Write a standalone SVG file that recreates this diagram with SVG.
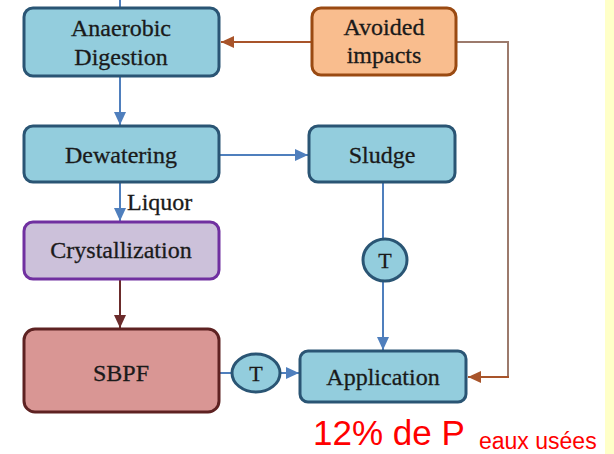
<svg xmlns="http://www.w3.org/2000/svg" width="614" height="454" viewBox="0 0 614 454">
<defs>
<style>
.box{stroke-width:3}
.blue{fill:#93cddd;stroke:#2a5574}
.orange{fill:#f9bd8e;stroke:#9a4a12}
.purple{fill:#ccc1da;stroke:#7030a0}
.red{fill:#d99694;stroke:#5e2222}
.lbl{font-family:'Liberation Serif','Times New Roman',serif;font-size:24px;fill:#1a1a1a;stroke:#1a1a1a;stroke-width:0.3;text-anchor:middle}
.c{fill:none;stroke-width:2}
.cb{stroke:#4f7fbd}
.co{stroke:#a8542a}
.cr{stroke:#6b2b2b}
.ct{stroke:#9c7a6c}
</style>
<marker id="ab" markerUnits="userSpaceOnUse" markerWidth="14" markerHeight="12" refX="13" refY="6" orient="auto"><path d="M0,0 L13,6 L0,12 Z" fill="#4f7fbd"/></marker>
<marker id="ao" markerUnits="userSpaceOnUse" markerWidth="14" markerHeight="12" refX="13" refY="6" orient="auto"><path d="M0,0 L13,6 L0,12 Z" fill="#a8542a"/></marker>
<marker id="ar" markerUnits="userSpaceOnUse" markerWidth="14" markerHeight="12" refX="13" refY="6" orient="auto"><path d="M0,0 L13,6 L0,12 Z" fill="#6b2b2b"/></marker>
</defs>
<rect x="0" y="0" width="614" height="454" fill="#ffffff"/>
<rect x="605" y="0" width="9" height="454" fill="#ffffc8"/>
<g id="connectors">
<line class="c cb" x1="120" y1="0" x2="120" y2="8"/>
<line class="c co" x1="312" y1="42" x2="221" y2="42" marker-end="url(#ao)"/>
<polyline class="c ct" points="456,42 508,42 508,377"/>
<line class="c co" x1="509" y1="377" x2="468" y2="377" marker-end="url(#ao)"/>
<line class="c cb" x1="120" y1="76" x2="120" y2="125" marker-end="url(#ab)"/>
<line class="c cb" x1="219" y1="155" x2="308" y2="155" marker-end="url(#ab)"/>
<line class="c cb" x1="120" y1="182" x2="120" y2="221" marker-end="url(#ab)"/>
<line class="c cr" x1="120" y1="279" x2="120" y2="328" marker-end="url(#ar)"/>
<line class="c cb" x1="383" y1="182" x2="383" y2="239"/>
<line class="c cb" x1="383" y1="281" x2="383" y2="350" marker-end="url(#ab)"/>
<line class="c cb" x1="219" y1="373" x2="232" y2="373"/>
<line class="c cb" x1="280" y1="373" x2="299" y2="373" marker-end="url(#ab)"/>
</g>
<g id="anaerobic">
<rect class="box blue" x="24" y="8" width="195" height="68" rx="9"/>
<text class="lbl" x="121" y="36">Anaerobic</text>
<text class="lbl" x="121" y="65">Digestion</text>
</g>
<g id="avoided">
<rect class="box orange" x="312" y="8" width="144" height="67" rx="9"/>
<text class="lbl" x="384" y="35">Avoided</text>
<text class="lbl" x="384" y="63">impacts</text>
</g>
<g id="dewatering">
<rect class="box blue" x="24" y="126" width="195" height="56" rx="9"/>
<text class="lbl" x="121" y="163">Dewatering</text>
</g>
<g id="sludge">
<rect class="box blue" x="309" y="126" width="146" height="56" rx="9"/>
<text class="lbl" x="382" y="163">Sludge</text>
</g>
<g id="liquor">
<text class="lbl" x="127" y="210" style="text-anchor:start">Liquor</text>
</g>
<g id="crystallization">
<rect class="box purple" x="24" y="222" width="195" height="57" rx="9"/>
<text class="lbl" x="121" y="258">Crystallization</text>
</g>
<g id="sbpf">
<rect class="box red" x="24" y="329" width="195" height="83" rx="11"/>
<text class="lbl" x="121" y="381">SBPF</text>
</g>
<g id="t1">
<ellipse class="box blue" cx="256" cy="373" rx="24" ry="19"/>
<text class="lbl" x="256" y="381" style="font-size:22px">T</text>
</g>
<g id="t2">
<ellipse class="box blue" cx="385" cy="260" rx="22" ry="21"/>
<text class="lbl" x="385" y="268" style="font-size:22px">T</text>
</g>
<g id="application">
<rect class="box blue" x="300" y="351" width="166" height="51" rx="8"/>
<text class="lbl" x="383" y="385">Application</text>
</g>
<g id="note" font-family="'Liberation Sans', Arial, sans-serif" fill="#ff0000">
<text x="313" y="445" font-size="35">12% de P</text>
<text x="479" y="449" font-size="23">eaux usées</text>
</g>
</svg>
